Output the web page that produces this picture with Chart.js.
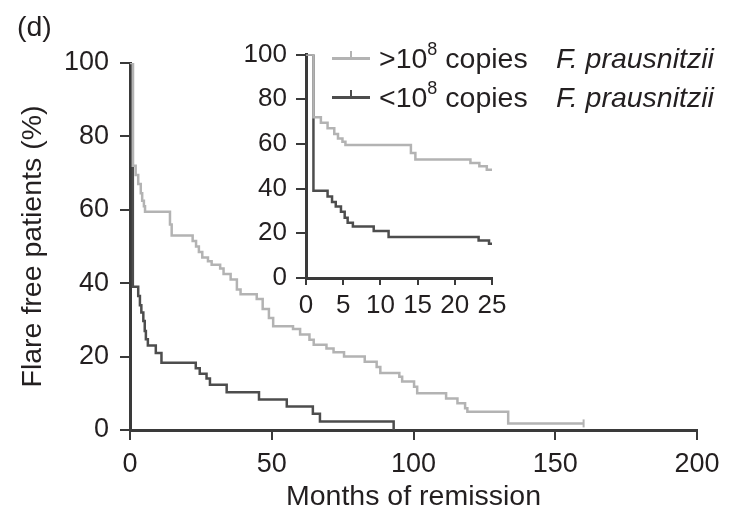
<!DOCTYPE html>
<html>
<head>
<meta charset="utf-8">
<script src="https://cdn.jsdelivr.net/npm/chart.js@4.4.1/dist/chart.umd.min.js"></script>
<style>
html,body{margin:0;padding:0;background:#fff;}
#wrap{position:relative;width:731px;height:517px;overflow:hidden;font-family:"Liberation Sans",Arial,sans-serif;color:#231f20;}
#main{position:absolute;left:0;top:0;}
#inset{position:absolute;left:230px;top:30px;}
.t{position:absolute;font-size:28.5px;line-height:28px;white-space:nowrap;}
.t sup{font-size:18px;line-height:0;position:relative;top:-3px;}
.sw{position:absolute;height:2.5px;}
.tk{position:absolute;width:2px;height:7px;}
</style>
</head>
<body>
<div id="wrap">
  <canvas id="main" width="731" height="517"></canvas>
  <canvas id="inset" width="300" height="300"></canvas>
  <div class="t" style="left:17px;top:12px;">(d)</div>
  <div class="sw" style="left:332px;top:57px;width:38px;background:#b3b3b3;"></div>
  <div class="tk" style="left:350px;top:51px;background:#b3b3b3;"></div>
  <div class="t" style="left:379px;top:44px;">&gt;10<sup>8</sup> copies</div>
  <div class="t" style="left:556px;top:44px;font-style:italic;">F. prausnitzii</div>
  <div class="sw" style="left:332px;top:96px;width:38px;background:#4d4d4d;"></div>
  <div class="tk" style="left:350px;top:90px;background:#4d4d4d;"></div>
  <div class="t" style="left:379px;top:83px;">&lt;10<sup>8</sup> copies</div>
  <div class="t" style="left:556px;top:83px;font-style:italic;">F. prausnitzii</div>
</div>
<script>
// ---- data ----
const seriesLabels = ['>10⁸ copies F. prausnitzii', '<10⁸ copies F. prausnitzii'];
const highMonths = [0, 1, 2, 2.9, 3.8, 4.3, 4.9, 5.3, 14.1, 14.7, 22.1, 23.3, 24.3, 25.5, 27.5, 28.8, 31.8, 33, 35.5, 37.7, 39, 44.7, 46.8, 49, 50.5, 57.5, 60, 63.3, 64.8, 69.3, 71.8, 75.5, 82.8, 87, 88.3, 95, 96, 100.2, 101.3, 111.5, 115.5, 118.2, 119, 133.4, 160];
const highPct    = [100, 72, 69.5, 67, 64.5, 62.5, 61, 59.5, 56, 53, 51.5, 50, 48.5, 47, 46, 45, 44, 42.5, 41, 38.3, 37, 35.7, 33, 30.5, 28.3, 27.5, 26, 24.6, 23.2, 22.2, 21.2, 20, 18.6, 17.2, 15.5, 14.5, 13.2, 11.8, 10, 8.6, 7.3, 5.9, 5, 1.8, 1.8];
const lowMonths  = [0, 1, 2.9, 3.5, 4, 4.7, 5.2, 5.6, 6.3, 9.1, 11.1, 23.2, 24.6, 27, 28.2, 34.1, 45.5, 55.3, 64.5, 67, 93];
const lowPct     = [100, 39, 36.5, 34, 32, 29.7, 27, 24.7, 23, 21, 18.3, 16.8, 15.3, 14, 12.3, 10.3, 8.3, 6.4, 4.4, 2.3, 0];
const mainXTicks = [0, 50, 100, 150, 200];
const insetXTicks = [0, 5, 10, 15, 20, 25];
const yTicks = [0, 20, 40, 60, 80, 100];
const xTitle = 'Months of remission';
const yTitle = 'Flare free patients (%)';

const LIGHT = '#b3b3b3', DARK = '#4d4d4d', AXIS = '#3a3a3a', TEXT = '#231f20';
const FONT = '"Liberation Sans", Arial, sans-serif';

function toXY(xs, ys){ return xs.map((x, i) => ({x: x, y: ys[i]})); }

function datasets(){
  const hi = toXY(highMonths, highPct);
  const lo = toXY(lowMonths, lowPct);
  return [
    {label: seriesLabels[0], data: hi, borderColor: LIGHT, borderWidth: 2.5, stepped: true, fill: false,
     pointRadius: c => c.dataIndex === hi.length - 1 ? 4 : 0, pointStyle: 'line', rotation: 90,
     pointBorderColor: LIGHT, pointBorderWidth: 2},
    {label: seriesLabels[1], data: lo, borderColor: DARK, borderWidth: 2.5, stepped: true, fill: false,
     pointRadius: 0}
  ];
}

function axisCfg(min, max, ticks, fontSize, tickLen, pad, extra){
  return Object.assign({
    type: 'linear', min: min, max: max,
    afterBuildTicks: s => { s.ticks = ticks.map(v => ({value: v})); },
    grid: {drawOnChartArea: false, drawTicks: true, tickLength: tickLen, color: AXIS, lineWidth: 2},
    border: {display: true, color: AXIS, width: 3},
    ticks: {color: TEXT, font: {family: FONT, size: fontSize}, padding: pad, maxRotation: 0, autoSkip: false}
  }, extra || {});
}

Chart.defaults.animation = false;

new Chart(document.getElementById('main'), {
  type: 'line',
  data: {datasets: datasets()},
  options: {
    responsive: false, animation: false,
    layout: {padding: {top: 63, right: 34, left: 0, bottom: 0}},
    plugins: {legend: {display: false}, tooltip: {enabled: false}},
    scales: {
      x: axisCfg(0, 200, mainXTicks, 27, 10, 8, {
        title: {display: true, text: xTitle, color: TEXT, font: {family: FONT, size: 28.5}, padding: {top: 0, bottom: 3}},
        afterFit: s => { s.height = 87; }
      }),
      y: axisCfg(0, 100, yTicks, 27, 10, 11, {
        title: {display: true, text: yTitle, color: TEXT, font: {family: FONT, size: 28.5}, padding: {top: 16, bottom: 0}},
        afterFit: s => { s.width = 130; }
      })
    }
  }
});

new Chart(document.getElementById('inset'), {
  type: 'line',
  data: {datasets: datasets()},
  options: {
    responsive: false, animation: false,
    layout: {padding: {top: 19, right: 38, left: 0, bottom: 0}},
    plugins: {legend: {display: false}, tooltip: {enabled: false}},
    scales: {
      x: axisCfg(0, 25, insetXTicks, 26, 7, 5, {afterFit: s => { s.height = 52; }}),
      y: axisCfg(0, 100, yTicks, 26, 10, 9, {afterFit: s => { s.width = 76; }})
    }
  }
});
</script>
</body>
</html>
